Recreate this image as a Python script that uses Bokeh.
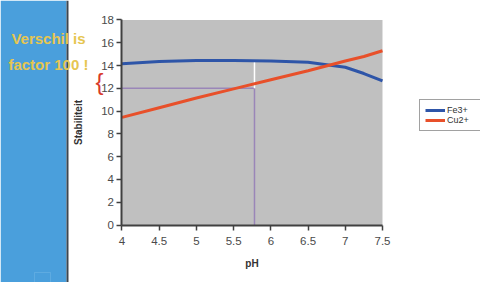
from bokeh.plotting import figure
from bokeh.models import (Label, Range1d, FixedTicker, ColumnDataSource, LinearAxis,
                          BoxAnnotation, Legend, LegendItem)
from bokeh.embed import file_html
from bokeh.resources import INLINE

ph = [4, 4.5, 5, 5.5, 6, 6.5, 7, 7.25, 7.5]
fe3 = [14.15, 14.35, 14.45, 14.45, 14.4, 14.3, 13.85, 13.3, 12.65]
cu2 = [9.45, 10.3, 11.15, 11.95, 12.75, 13.55, 14.4, 14.8, 15.3]
series_names = ["Fe3+", "Cu2+"]
series_colors = ["#2e55a8", "#e8502a"]
marker_ph = 5.78
marker_level = 12.0
x_ticks = [4, 4.5, 5, 5.5, 6, 6.5, 7, 7.5]
y_ticks = [0, 2, 4, 6, 8, 10, 12, 14, 16, 18]

W, H = 480, 282
# the frame spans the whole canvas; axes sit at fixed data locations
p = figure(width=W, height=H, output_backend="svg", toolbar_location=None,
           x_range=Range1d(2.3676, 8.8167), y_range=Range1d(-5.048, 19.712),
           x_axis_location=None, y_axis_location=None, min_border=0)
p.background_fill_color = "white"
p.border_fill_color = "white"
p.outline_line_color = None
p.grid.visible = False

# grey plot area
p.quad(left=[x_ticks[0]], right=[x_ticks[-1]], bottom=[y_ticks[0]], top=[y_ticks[-1]],
       fill_color="#c0c0c0", line_color=None)

xax = LinearAxis(fixed_location=y_ticks[0], bounds=(x_ticks[0], x_ticks[-1]))
yax = LinearAxis(fixed_location=x_ticks[0], bounds=(y_ticks[0], y_ticks[-1]))
for ax in (xax, yax):
    ax.axis_line_color = "#404040"
    ax.axis_line_width = 2
    ax.major_tick_line_color = "#404040"
    ax.major_tick_line_width = 1.5
    ax.major_tick_out = 5
    ax.major_tick_in = 0
    ax.minor_tick_line_color = None
    ax.major_label_text_font = "Liberation Sans"
    ax.major_label_text_font_size = "11.5px"
    ax.major_label_text_color = "#4a4a4a"
    ax.axis_label_text_font = "Liberation Sans"
    ax.axis_label_text_font_size = "10px"
    ax.axis_label_text_font_style = "bold"
    ax.axis_label_text_color = "#333333"
xax.ticker = FixedTicker(ticks=x_ticks)
yax.ticker = FixedTicker(ticks=y_ticks)
xax.axis_label = "pH"
yax.axis_label = "Stabiliteit"
xax.major_label_standoff = 7
yax.major_label_standoff = 3
xax.axis_label_standoff = 9
yax.axis_label_standoff = 14
p.add_layout(xax, "below")
p.add_layout(yax, "left")

# marker lines
p.line([x_ticks[0], marker_ph], [marker_level, marker_level], color="#9a86b8", line_width=1.5)
p.line([marker_ph, marker_ph], [y_ticks[0], marker_level], color="#9a86b8", line_width=1.5)
p.line([marker_ph, marker_ph], [marker_level, fe3[2]], color="white", line_width=1.5)

src = ColumnDataSource(dict(ph=ph, fe3=fe3, cu2=cu2))
r_fe = p.line("ph", "fe3", source=src, color=series_colors[0], line_width=3)
r_cu = p.line("ph", "cu2", source=src, color=series_colors[1], line_width=3)

legend = Legend(items=[LegendItem(label=series_names[0], renderers=[r_fe]),
                       LegendItem(label=series_names[1], renderers=[r_cu])],
                location=(419, 151))
legend.label_text_font = "Liberation Sans"
legend.label_text_font_size = "9px"
legend.label_text_color = "#333333"
legend.label_standoff = 2
legend.label_width = 36
legend.border_line_color = "#444444"
legend.border_line_width = 1.5
legend.glyph_width = 20
legend.glyph_height = 10
legend.label_height = 10
legend.spacing = 0
legend.padding = 5
legend.margin = 0
legend.background_fill_color = "white"
p.add_layout(legend, "center")

# left blue strip (screen units = canvas pixels, origin bottom-left)
p.add_layout(BoxAnnotation(left=0, right=66, bottom=0, top=H,
                           left_units="screen", right_units="screen",
                           bottom_units="screen", top_units="screen",
                           fill_color="#4a9fdc", fill_alpha=1, line_color=None,
                           level="underlay"))
p.add_layout(BoxAnnotation(left=66, right=68, bottom=0, top=H,
                           left_units="screen", right_units="screen",
                           bottom_units="screen", top_units="screen",
                           fill_color="#3c4650", fill_alpha=1, line_color=None,
                           level="underlay"))
p.add_layout(BoxAnnotation(left=34, right=50, bottom=0, top=10,
                           left_units="screen", right_units="screen",
                           bottom_units="screen", top_units="screen",
                           fill_alpha=0, line_color="#8ec6ee", line_width=1))

for txt, cx, cy, fs in [("Verschil is", 48, 38, "15px"), ("factor  100 !", 50, 64, "15px")]:
    p.add_layout(Label(x=cx, y=H - cy, x_units="screen", y_units="screen",
                       text=txt, anchor="center",
                       text_color="#e6c650", text_font="Liberation Sans",
                       text_font_size=fs, text_font_style="bold"))
p.add_layout(Label(x=99, y=H - 81, x_units="screen", y_units="screen",
                   text="{", anchor="center",
                   text_color="#d83a2a", text_font="Liberation Sans",
                   text_font_size="24px"))

open("out.html", "w").write(file_html(p, INLINE))
